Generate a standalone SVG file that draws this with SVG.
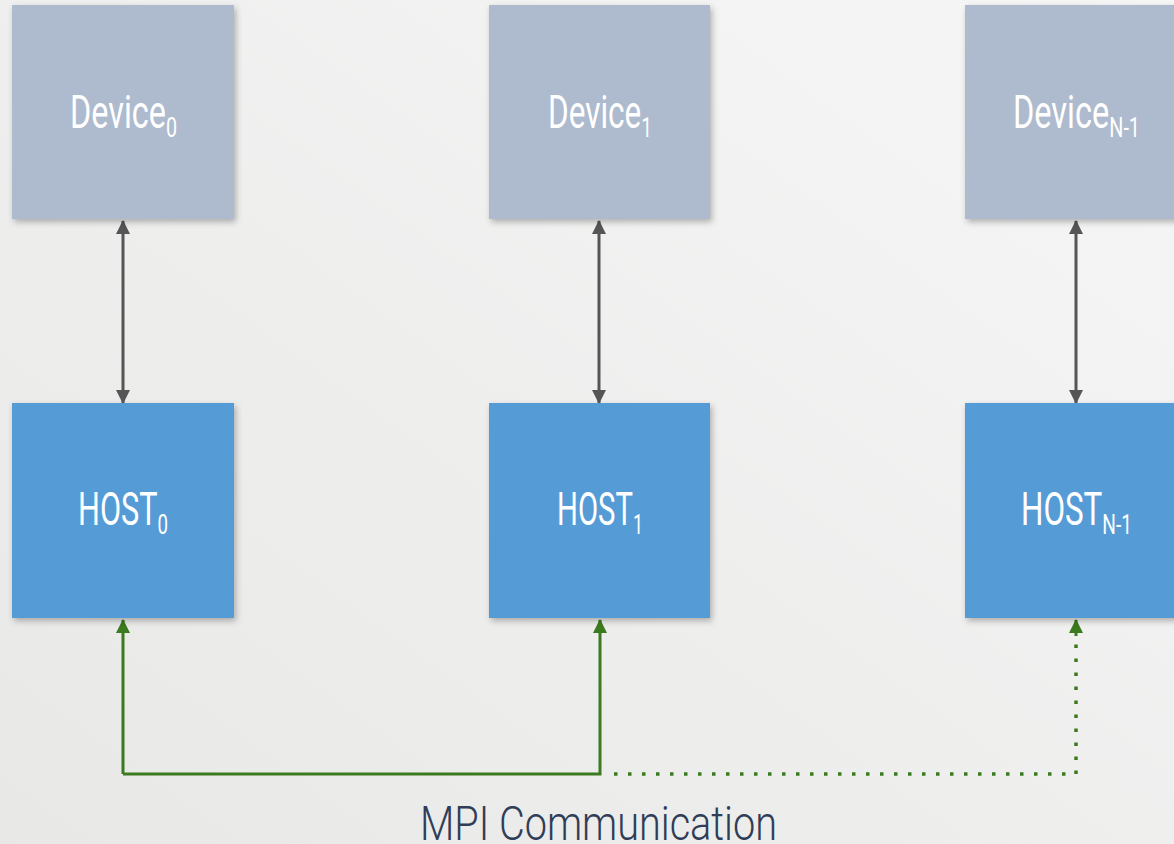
<svg xmlns="http://www.w3.org/2000/svg" width="1174" height="844" viewBox="0 0 1174 844">
  <defs>
    <linearGradient id="bg" x1="0" y1="1" x2="1" y2="0">
      <stop offset="0" stop-color="#e8e8e7"/>
      <stop offset="1" stop-color="#f6f6f6"/>
    </linearGradient>
    <filter id="shadow" x="-10%" y="-10%" width="125%" height="125%">
      <feDropShadow dx="2" dy="3" stdDeviation="3" flood-color="#000" flood-opacity="0.28"/>
    </filter>
    <marker id="grayHead" viewBox="0 0 14 16" refX="13" refY="8" markerWidth="14" markerHeight="16" markerUnits="userSpaceOnUse" orient="auto-start-reverse">
      <path d="M0,1 L14,8 L0,15 Z" fill="#555555"/>
    </marker>
    <marker id="greenHead" viewBox="0 0 14 16" refX="13" refY="8" markerWidth="14" markerHeight="16" markerUnits="userSpaceOnUse" orient="auto">
      <path d="M0,1 L14,8 L0,15 Z" fill="#3b7a1e"/>
    </marker>
  </defs>
  <style>
    .device { fill: #aebacd; filter: url(#shadow); }
    .host { fill: #559cd6; filter: url(#shadow); }
    .lbl { font-family: Roboto, "Liberation Sans", sans-serif; fill: #ffffff; font-size: 46px; }
    .sub { font-size: 28px; }
    .bus { stroke: #555555; stroke-width: 3; fill: none; marker-start: url(#grayHead); marker-end: url(#grayHead); }
    .mpi { stroke: #3b7a1e; stroke-width: 3; fill: none; }
    .mpi-dot { stroke: #3b7a1e; stroke-width: 3.5; fill: none; stroke-dasharray: 3.5 10.5; }
    .caption { font-family: Roboto, "Liberation Sans", sans-serif; font-weight: 300; fill: #2f3d57; font-size: 48px; }
  </style>

  <rect width="1174" height="844" fill="url(#bg)"/>

  <g id="connectors">
    <line class="bus" x1="123" y1="221" x2="123" y2="403"/>
    <line class="bus" x1="599" y1="221" x2="599" y2="403"/>
    <line class="bus" x1="1076" y1="221" x2="1076" y2="403"/>
    <polyline class="mpi" points="123,774 123,620" marker-end="url(#greenHead)"/>
    <polyline class="mpi" points="123,774 600,774 600,620" marker-end="url(#greenHead)"/>
    <path class="mpi-dot" d="M614,774 H1076 V640"/>
    <line class="mpi" x1="1076" y1="636" x2="1076" y2="620" marker-end="url(#greenHead)"/>
  </g>

  <g id="device0">
    <rect class="device" x="12" y="5" width="222" height="214"/>
    <text class="lbl" x="70" y="128" textLength="107" lengthAdjust="spacingAndGlyphs">Device<tspan class="sub" dy="9">0</tspan></text>
  </g>
  <g id="device1">
    <rect class="device" x="489" y="5" width="221" height="214"/>
    <text class="lbl" x="548" y="128" textLength="104" lengthAdjust="spacingAndGlyphs">Device<tspan class="sub" dy="9">1</tspan></text>
  </g>
  <g id="deviceN1">
    <rect class="device" x="965" y="5" width="215" height="214"/>
    <text class="lbl" x="1013" y="128" textLength="127" lengthAdjust="spacingAndGlyphs">Device<tspan class="sub" dy="9">N-1</tspan></text>
  </g>

  <g id="host0">
    <rect class="host" x="12" y="403" width="222" height="215"/>
    <text class="lbl" x="78" y="525" textLength="90" lengthAdjust="spacingAndGlyphs">HOST<tspan class="sub" dy="9">0</tspan></text>
  </g>
  <g id="host1">
    <rect class="host" x="489" y="403" width="221" height="215"/>
    <text class="lbl" x="557" y="525" textLength="86" lengthAdjust="spacingAndGlyphs">HOST<tspan class="sub" dy="9">1</tspan></text>
  </g>
  <g id="hostN1">
    <rect class="host" x="965" y="403" width="215" height="215"/>
    <text class="lbl" x="1021" y="525" textLength="111" lengthAdjust="spacingAndGlyphs">HOST<tspan class="sub" dy="9">N-1</tspan></text>
  </g>

  <g id="caption">
    <text class="caption" x="420" y="840" textLength="357" lengthAdjust="spacingAndGlyphs">MPI Communication</text>
  </g>
</svg>
